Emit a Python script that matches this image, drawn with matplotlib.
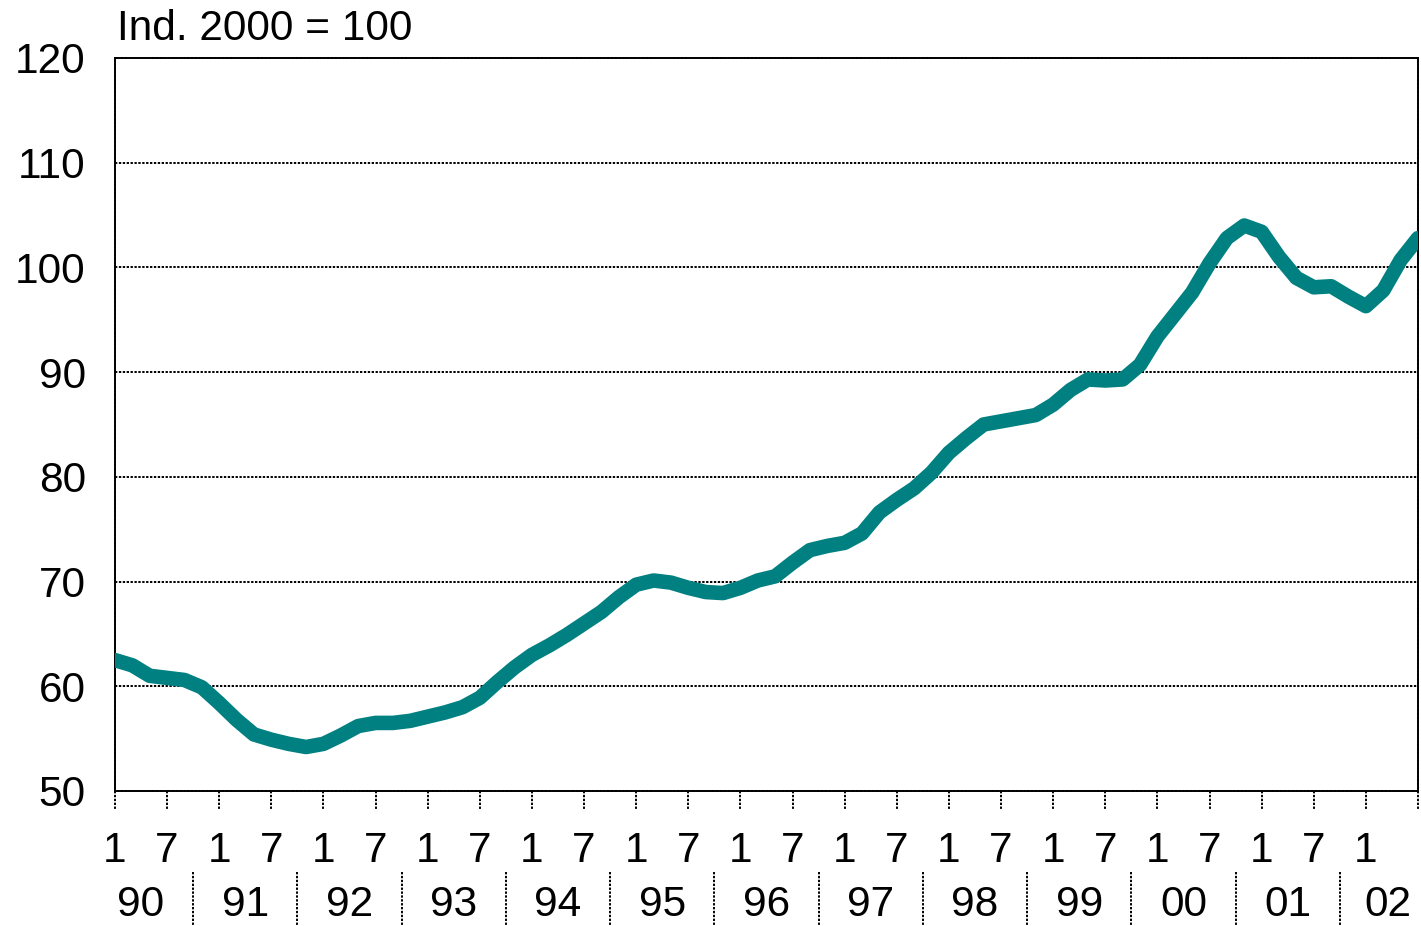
import matplotlib
matplotlib.use("Agg")
import matplotlib.pyplot as plt

# Index values, one reading every second month from Jan 1990 (month 0)
months = list(range(0, 151, 2))
index = [62.5, 62.0, 61.0, 60.8, 60.6, 59.9, 58.4, 56.8, 55.4, 54.9,
         54.5, 54.2, 54.5, 55.3, 56.2, 56.5, 56.5, 56.7, 57.1, 57.5,
         58.0, 58.9, 60.4, 61.8, 63.0, 63.9, 64.9, 66.0, 67.1, 68.5,
         69.7, 70.1, 69.9, 69.4, 69.0, 68.9, 69.4, 70.1, 70.5, 71.8,
         73.0, 73.4, 73.7, 74.6, 76.6, 77.8, 78.9, 80.4, 82.3, 83.7,
         85.0, 85.3, 85.6, 85.9, 86.9, 88.3, 89.3, 89.2, 89.3, 90.7,
         93.4, 95.5, 97.6, 100.4, 102.8, 104.0, 103.4, 101.0, 99.0, 98.1,
         98.2, 97.2, 96.3, 97.8, 100.7, 102.8]

years = ["90", "91", "92", "93", "94", "95", "96", "97", "98", "99", "00", "01", "02"]
month_labels = ["1", "7"]
yticks = [50, 60, 70, 80, 90, 100, 110, 120]

plt.rcParams["font.family"] = ["Liberation Sans", "DejaVu Sans"]
fsize = 30.5
dots = (0, (1.2, 0.8))

fig = plt.figure(figsize=(14.21, 9.26), dpi=100)
ax = fig.add_axes([0.0809, 0.1458, 0.9170, 0.7916])

ax.plot(months, index, color="#008080", lw=10.5,
        solid_capstyle="round", solid_joinstyle="round", zorder=3)

ax.set_xlim(0, 150)
ax.set_ylim(50, 120)

# dotted grid and frame
for v in yticks[1:-1]:
    ax.axhline(v, color="black", lw=1.4, ls=dots, zorder=1)
for sp in ax.spines.values():
    sp.set_linestyle(dots)
    sp.set_linewidth(1.4)

ax.set_yticks(yticks)
ax.set_yticklabels([str(v) for v in yticks], fontsize=fsize)
ax.tick_params(axis="y", length=0, pad=21)
ax.set_xticks([])

# x ticks every 6 months, month labels and year row
xt = ax.get_xaxis_transform()
for m in range(0, 151, 6):
    ax.plot([m, m], [0, -0.025], transform=xt, color="black", lw=1.4,
            ls=dots, clip_on=False)
    if m < 150:
        ax.text(m, -0.082, month_labels[(m // 6) % 2], transform=xt,
                ha="center", va="center", fontsize=fsize)

for i, y in enumerate(years):
    pos = min(i * 12 + 3, 146.5)
    ax.text(pos, -0.155, y, transform=xt, ha="center", va="center", fontsize=fsize)
    if i * 12 + 9 < 150:
        ax.plot([i * 12 + 9, i * 12 + 9], [-0.111, -0.185], transform=xt,
                color="black", lw=1.4, ls=dots, clip_on=False)

ax.text(0.0015, 1.0245, "Ind. 2000 = 100", transform=ax.transAxes,
        ha="left", va="baseline", fontsize=fsize)

fig.savefig("out.png", dpi=100)
